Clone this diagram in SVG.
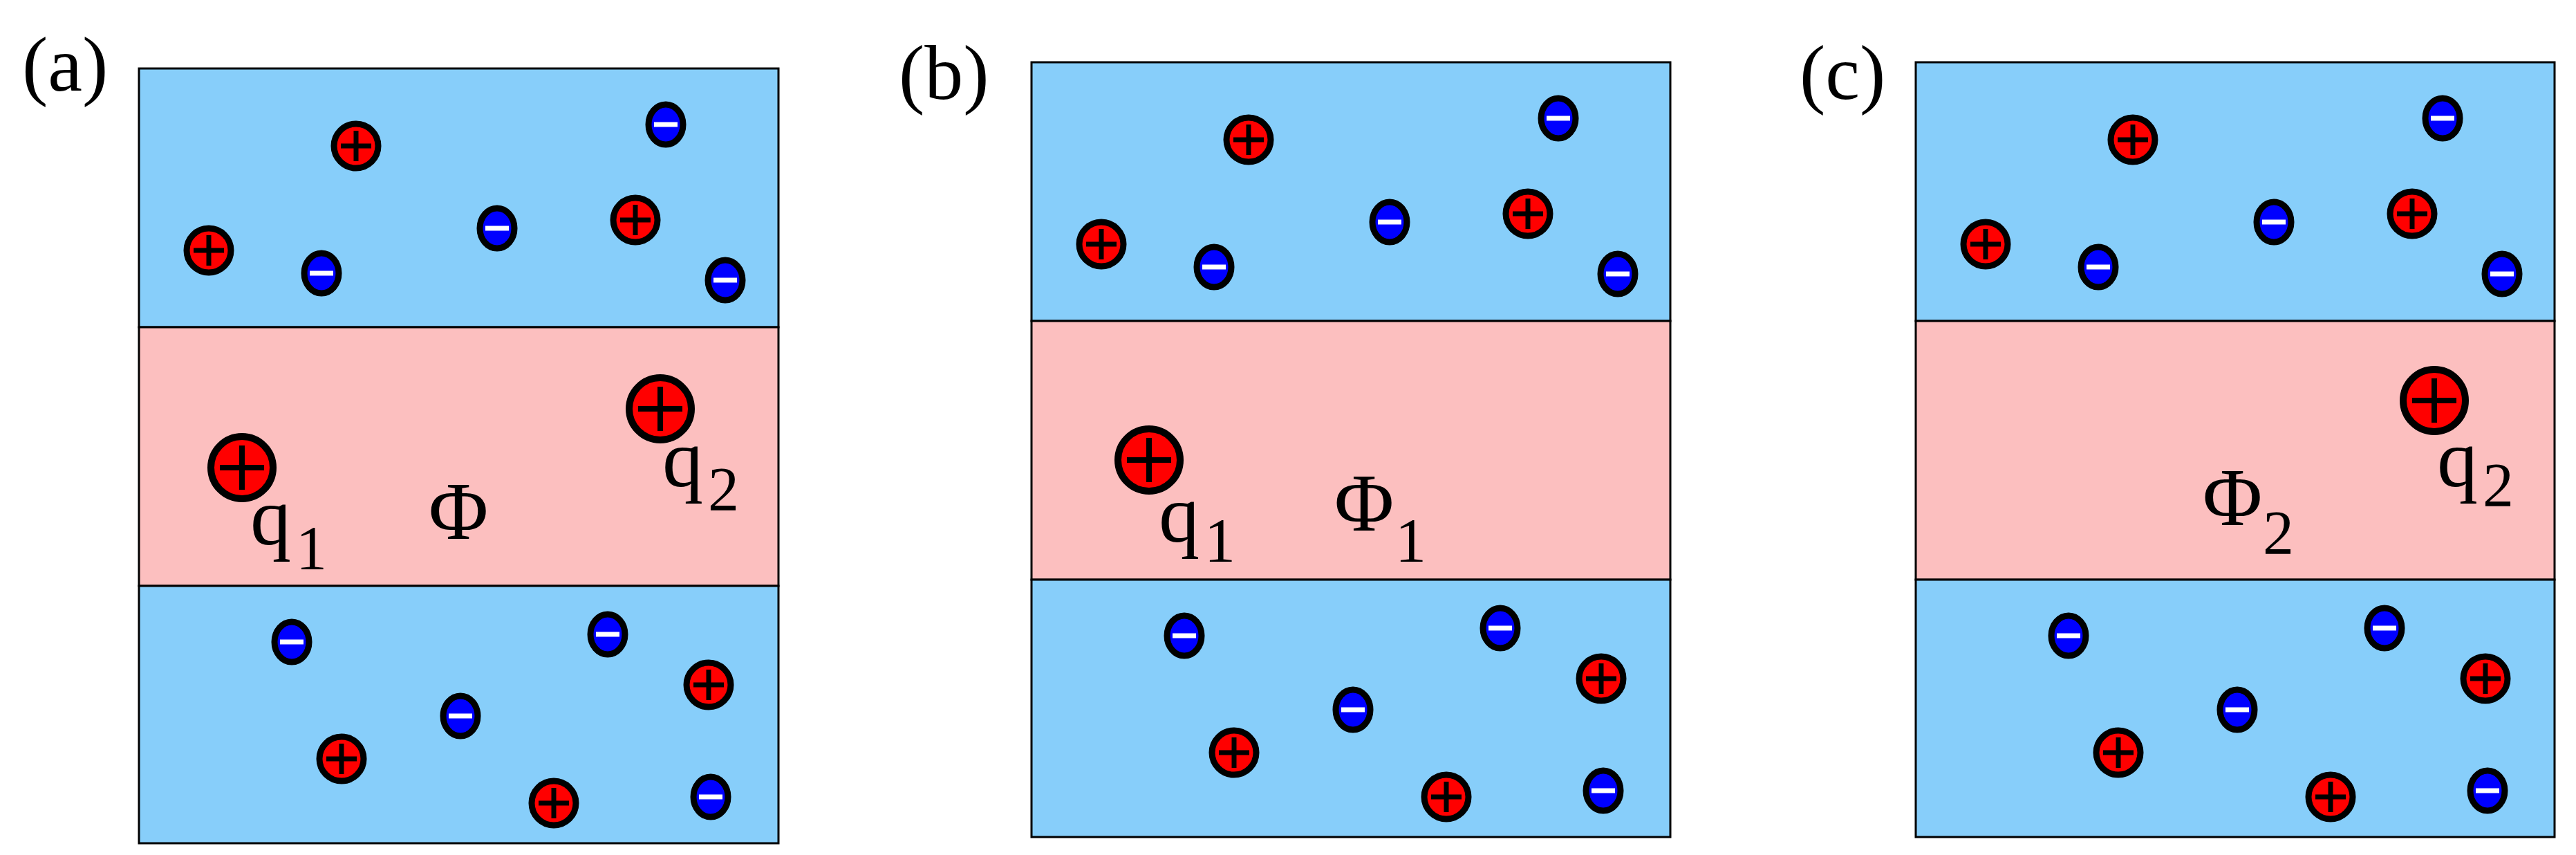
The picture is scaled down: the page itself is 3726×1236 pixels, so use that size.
<svg xmlns="http://www.w3.org/2000/svg" xmlns:xlink="http://www.w3.org/1999/xlink" width="3726" height="1236" viewBox="0 0 3726 1236">
<style>
.bl{fill:#87cefa;stroke:#000;stroke-width:3}
.pk{fill:#fcbfbf;stroke:#000;stroke-width:3}
text{font-family:'Liberation Serif','Times New Roman',serif;fill:#000}
.lab{font-size:112px}
.big{font-size:118px}
.sub{font-size:90px}
</style>
<defs>
<g id="p"><circle r="32" fill="#ff0000" stroke="#000" stroke-width="9"/><path d="M-22 0H22M0-22V22" stroke="#000" stroke-width="7"/></g>
<g id="m"><ellipse rx="25" ry="29" fill="#0000ff" stroke="#000" stroke-width="9"/><rect x="-17" y="-3.5" width="34" height="7" fill="#fff"/></g>
<g id="P"><circle r="45" fill="#ff0000" stroke="#000" stroke-width="10"/><path d="M-32 0H32M0-32V32" stroke="#000" stroke-width="8"/></g>
<g id="ions">
<use xlink:href="#p" x="515" y="211"/><use xlink:href="#p" x="302" y="362"/><use xlink:href="#p" x="919" y="318"/>
<use xlink:href="#m" x="963" y="180"/><use xlink:href="#m" x="719" y="330"/><use xlink:href="#m" x="465" y="395"/><use xlink:href="#m" x="1049" y="405"/>
<use xlink:href="#m" x="422" y="928"/><use xlink:href="#m" x="879" y="917"/><use xlink:href="#m" x="666" y="1035"/><use xlink:href="#m" x="1028" y="1152"/>
<use xlink:href="#p" x="1025" y="990"/><use xlink:href="#p" x="494" y="1097"/><use xlink:href="#p" x="801" y="1161"/>
</g>
</defs>
<g id="panel-a">
<rect class="bl" x="201" y="99" width="925" height="374"/>
<rect class="pk" x="201" y="473" width="925" height="374"/>
<rect class="bl" x="201" y="847" width="925" height="372"/>
<use xlink:href="#ions"/>
<use xlink:href="#P" x="350" y="676"/><use xlink:href="#P" x="955" y="591"/>
<text class="lab" x="32" y="131">(a)</text>
<text class="big" x="362" y="787">q</text><text class="sub" x="428" y="823">1</text>
<text class="big" x="620" y="779">Φ</text>
<text class="big" x="958" y="703">q</text><text class="sub" x="1024" y="738">2</text>
</g>
<g id="panel-b">
<rect class="bl" x="1492" y="90" width="924" height="374"/>
<rect class="pk" x="1492" y="464" width="924" height="374"/>
<rect class="bl" x="1492" y="838" width="924" height="372"/>
<use xlink:href="#ions" transform="translate(1291,-9)"/>
<use xlink:href="#P" x="1662" y="665"/>
<text class="lab" x="1300" y="143">(b)</text>
<text class="big" x="1676" y="783">q</text><text class="sub" x="1742" y="812">1</text>
<text class="big" x="1930" y="767">Φ</text><text class="sub" x="2018" y="812">1</text>
</g>
<g id="panel-c">
<rect class="bl" x="2771" y="90" width="924" height="374"/>
<rect class="pk" x="2771" y="464" width="924" height="374"/>
<rect class="bl" x="2771" y="838" width="924" height="372"/>
<use xlink:href="#ions" transform="translate(2570,-9)"/>
<use xlink:href="#P" x="3521" y="579"/>
<text class="lab" x="2603" y="143">(c)</text>
<text class="big" x="3525" y="703">q</text><text class="sub" x="3591" y="732">2</text>
<text class="big" x="3186" y="759">Φ</text><text class="sub" x="3273" y="801">2</text>
</g>
<g id="connectors"/>
</svg>
